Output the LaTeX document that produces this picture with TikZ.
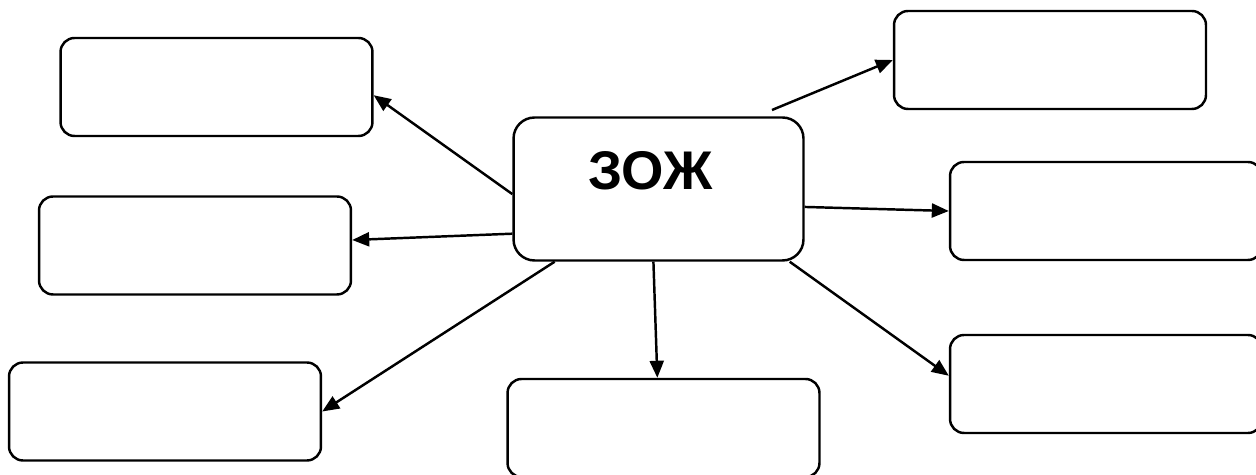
\documentclass[tikz,border=0pt]{standalone}
\usepackage{fontspec}
\newfontfamily\zojfont{Liberation Sans}
\usetikzlibrary{arrows.meta}
\tikzset{
  box/.style={draw, line width=1.4pt, rounded corners=0.28cm, inner sep=0pt, minimum width=6.24cm, minimum height=1.96cm},
  mainbox/.style={draw, line width=1.4pt, rounded corners=0.42cm, inner sep=0pt, minimum width=5.8cm, minimum height=2.86cm},
  arr/.style={line width=1.4pt, -{Triangle[length=0.34cm,width=0.28cm]}}
}
\begin{document}
\begin{tikzpicture}[x=0.02cm,y=-0.02cm]
\useasboundingbox (0,0) rectangle (1256,475);
\node[mainbox] (z) at (658.5,189) {};
\node[font=\zojfont\bfseries\fontsize{31}{36}\selectfont, inner sep=0pt] (t) at (650.5,171) {ЗОЖ};
\node[box] (tl) at (216.5,87) {};
\node[box] (ml) at (195,245.5) {};
\node[box] (bl) at (165,411.5) {};
\node[box] (bc) at (663.5,428) {};
\node[box] (tr) at (1050,60) {};
\node[box] (mr) at (1106,211) {};
\node[box] (br) at (1106,384) {};
\coordinate (zt) at (772,110);
\draw[arr] (z.182) -- (tl.-3);
\draw[arr] (z.197.6) -- (ml.2);
\draw[arr] (z.215.6) -- (bl.east);
\draw[arr] (z.266) -- (bc.97.7);
\draw[arr] (zt) -- (tr.west);
\draw[arr] (z.-7.1) -- (mr.west);
\draw[arr] (z.-29.9) -- (br.177.8);
\end{tikzpicture}
\end{document}
